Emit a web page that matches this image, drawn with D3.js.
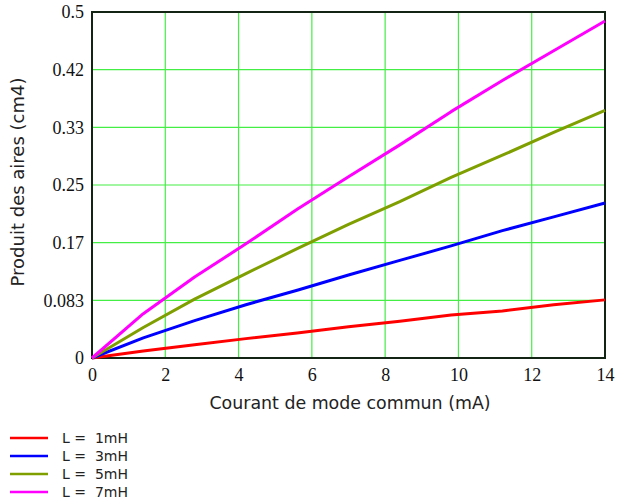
<!DOCTYPE html>
<html>
<head>
<meta charset="utf-8">
<script src="https://cdn.jsdelivr.net/npm/d3@7"></script>
<style>
  body { margin: 0; background: #fff; }
  svg { display: block; }
</style>
</head>
<body>
<script>
// courant de mode commun (mA)
var current = [0, 1.4, 2.8, 4.2, 5.6, 7, 8.4, 9.8, 11.2, 12.6, 14];

// produit des aires (cm4) pour chaque inductance
var l1mH = [0, 0.010, 0.019, 0.028, 0.036, 0.045, 0.053, 0.062, 0.068, 0.077, 0.084];
var l3mH = [0, 0.029, 0.054, 0.077, 0.098, 0.120, 0.141, 0.162, 0.184, 0.204, 0.224];
var l5mH = [0, 0.044, 0.085, 0.122, 0.158, 0.193, 0.226, 0.261, 0.293, 0.326, 0.358];
var l7mH = [0, 0.064, 0.117, 0.165, 0.215, 0.262, 0.308, 0.356, 0.401, 0.444, 0.487];

var seriesNames = ["L =  1mH", "L =  3mH", "L =  5mH", "L =  7mH"];
var seriesColors = ["#ff0000", "#0000ff", "#7f9f00", "#ff00ff"];

var xTicks = [0, 2, 4, 6, 8, 10, 12, 14];
var yTicks = [0, 1/12, 2/12, 3/12, 4/12, 5/12, 6/12];
var yTickLabels = ["0", "0.083", "0.17", "0.25", "0.33", "0.42", "0.5"];

var w = 618, h = 504;
var padL = 92, padR = 605, padT = 12, padB = 358;

var svg = d3.select("body").append("svg").attr("width", w).attr("height", h);

var xScale = d3.scaleLinear().domain([0, 14]).range([padL, padR]);
var yScale = d3.scaleLinear().domain([0, 0.5]).range([padB, padT]);

// grille
svg.append("g").selectAll("line")
    .data(xTicks.slice(1, -1))
    .enter().append("line")
    .attr("x1", function (d) { return xScale(d); })
    .attr("x2", function (d) { return xScale(d); })
    .attr("y1", padT).attr("y2", padB)
    .attr("stroke", "#44ee44").attr("stroke-width", 1.2);

svg.append("g").selectAll("line")
    .data(yTicks.slice(1, -1))
    .enter().append("line")
    .attr("y1", function (d) { return yScale(d); })
    .attr("y2", function (d) { return yScale(d); })
    .attr("x1", padL).attr("x2", padR)
    .attr("stroke", "#44ee44").attr("stroke-width", 1.2);

// axes
var xAxisGen = d3.axisBottom(xScale).tickValues(xTicks).tickSize(0).tickPadding(10)
    .tickFormat(d3.format("d"));
var yAxisGen = d3.axisLeft(yScale).tickValues(yTicks).tickSize(0).tickPadding(8)
    .tickFormat(function (d, i) { return yTickLabels[i]; });

var xAxis = svg.append("g").attr("transform", "translate(0," + padB + ")").call(xAxisGen);
var yAxis = svg.append("g").attr("transform", "translate(" + padL + ",0)").call(yAxisGen);

[xAxis, yAxis].forEach(function (a) {
    a.select(".domain").remove();
    a.selectAll("text")
        .attr("font-family", "'Liberation Serif', 'Times New Roman', serif")
        .attr("font-size", 18)
        .attr("fill", "#111");
});

// cadre
svg.append("rect")
    .attr("x", padL).attr("y", padT)
    .attr("width", padR - padL).attr("height", padB - padT)
    .attr("fill", "none").attr("stroke", "#142414").attr("stroke-width", 2);

// courbes
var allSeries = [l1mH, l3mH, l5mH, l7mH];
var lineFn = d3.line()
    .x(function (d, i) { return xScale(current[i]); })
    .y(function (d) { return yScale(d); });

svg.append("g").selectAll("path")
    .data(allSeries)
    .enter().append("path")
    .attr("d", function (d) { return lineFn(d); })
    .attr("fill", "none")
    .attr("stroke", function (d, i) { return seriesColors[i]; })
    .attr("stroke-width", 3)
    .attr("stroke-linejoin", "round");

// titres
svg.append("text")
    .attr("x", 350).attr("y", 409)
    .attr("text-anchor", "middle")
    .attr("font-family", "'DejaVu Sans', Verdana, sans-serif")
    .attr("font-size", 17.4)
    .attr("fill", "#222")
    .text("Courant de mode commun (mA)");

svg.append("text")
    .attr("transform", "translate(24,182) rotate(-90)")
    .attr("text-anchor", "middle")
    .attr("font-family", "'DejaVu Sans', Verdana, sans-serif")
    .attr("font-size", 18)
    .attr("fill", "#222")
    .text("Produit des aires (cm4)");

// légende
var legend = svg.append("g").selectAll("g")
    .data(seriesNames)
    .enter().append("g")
    .attr("transform", function (d, i) { return "translate(10," + (438 + i * 18) + ")"; });

legend.append("line")
    .attr("x1", 0).attr("x2", 38).attr("y1", 0).attr("y2", 0)
    .attr("stroke", function (d, i) { return seriesColors[i]; })
    .attr("stroke-width", 2.5);

legend.append("text")
    .attr("x", 52).attr("y", 5)
    .attr("font-family", "'DejaVu Sans', Verdana, sans-serif")
    .attr("font-size", 14)
    .attr("fill", "#222")
    .style("white-space", "pre")
    .text(function (d) { return d; });
</script>
</body>
</html>
